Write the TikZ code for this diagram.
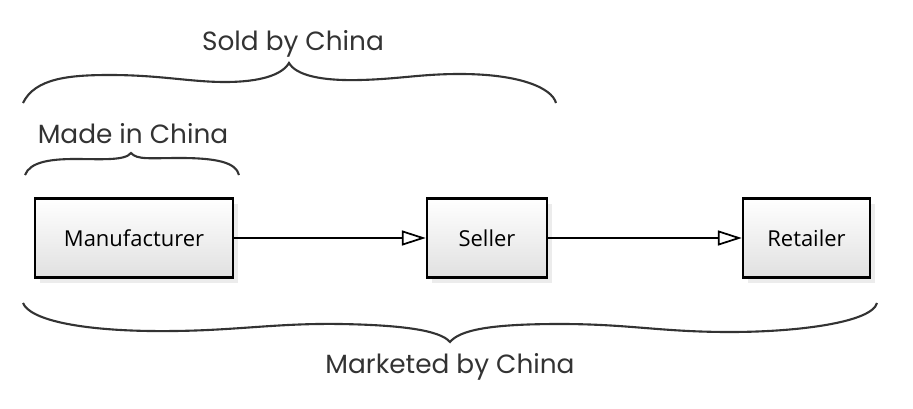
\documentclass[tikz,border=0pt]{standalone}
\usepackage{xcolor}
\usepackage{fontspec}
\usepackage{tikz}
\usetikzlibrary{arrows.meta}
\usetikzlibrary{shadows}
\newfontfamily\labelfont{Poppins}
\newfontfamily\boxfont{Open Sans}
\definecolor{InkGray}{HTML}{333333}

\begin{document}
\begin{tikzpicture}[x=0.02cm, y=-0.02cm,
    party/.style = {draw, line width = 1.4pt, top color = white,
      bottom color = black!12, inner sep = 0pt,
      drop shadow = {shadow xshift = 3pt, shadow yshift = -3pt, opacity = .15},
      font = \boxfont\fontsize{12.5}{14}\selectfont},
    flow/.style = {line width = 1pt,
      -{Triangle[open, length = .48cm, width = .3cm, fill = white]}},
    brace/.style = {line width = 1.2pt, draw = InkGray},
    scope label/.style = {anchor = base, text = InkGray,
      font = \labelfont\fontsize{15}{18}\selectfont}]
  \useasboundingbox (0,0) rectangle (913,409);

  \node[party, minimum width = 3.96cm, minimum height = 1.58cm]
    (maker) at (134,238) {Manufacturer};
  \node[party, minimum width = 2.4cm, minimum height = 1.58cm]
    (seller) at (487,238) {Seller};
  \node[party, minimum width = 2.54cm, minimum height = 1.58cm]
    (retailer) at (806.5,238) {Retailer};

  \draw[flow] (maker) -- (seller);
  \draw[flow] (seller) -- (retailer);

  % sold by
  \draw[brace] (23,103) .. controls (35,78) and (70,75) .. (110,75)
    .. controls (160,75) and (190,82) .. (225,82)
    .. controls (260,82) and (282,75) .. (289,63)
    .. controls (296,75) and (320,81) .. (360,80)
    .. controls (400,79) and (420,74) .. (460,74)
    .. controls (520,74) and (552,88) .. (556,103);
  \node[scope label] (sold) at (293,51) {Sold by China};

  % made in
  \draw[brace] (25,175) .. controls (30,162) and (50,159) .. (75,159)
    .. controls (100,159) and (125,161) .. (131,153)
    .. controls (137,160) and (150,158) .. (180,158)
    .. controls (215,158) and (236,162) .. (239,175);
  \node[scope label] (made) at (133,143) {Made in China};

  % marketed by
  \draw[brace] (23,303) .. controls (30,320) and (80,330) .. (150,331)
    .. controls (230,332) and (270,323) .. (340,324)
    .. controls (400,325) and (440,330) .. (450,342)
    .. controls (460,330) and (490,324) .. (560,324)
    .. controls (630,324) and (660,332) .. (730,332)
    .. controls (800,332) and (872,322) .. (877,303);
  \node[scope label] (marketed) at (450,373) {Marketed by China};

\end{tikzpicture}
\end{document}
